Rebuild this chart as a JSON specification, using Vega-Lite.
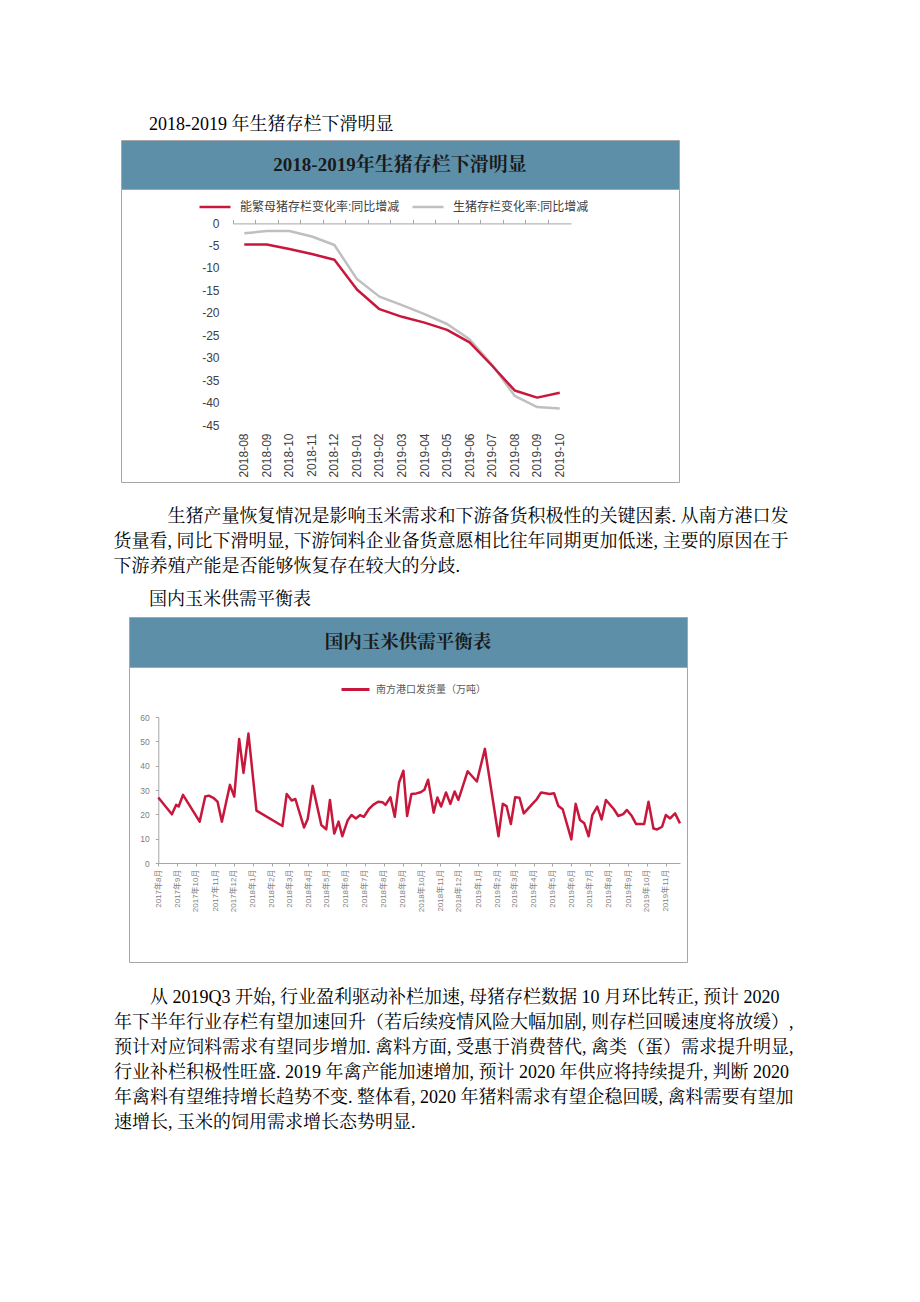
{
  "$schema": "https://vega.github.io/schema/vega-lite/v6.json",
  "padding": {"left": 113, "top": 115, "right": 10, "bottom": 10},
  "background": "white",
  "config": {"view": {"stroke": null}, "font": "Liberation Sans, Noto Sans CJK SC"},
  "spacing": 13,
  "resolve": {"scale": {"color": "independent"}, "legend": {"color": "independent"}},
  "datasets": {
    "pig": [
      {"m": "2018-08", "s": "生猪存栏变化率:同比增减", "v": -2.3},
      {"m": "2018-09", "s": "生猪存栏变化率:同比增减", "v": -1.8},
      {"m": "2018-10", "s": "生猪存栏变化率:同比增减", "v": -1.8},
      {"m": "2018-11", "s": "生猪存栏变化率:同比增减", "v": -3.0},
      {"m": "2018-12", "s": "生猪存栏变化率:同比增减", "v": -4.9},
      {"m": "2019-01", "s": "生猪存栏变化率:同比增减", "v": -12.5},
      {"m": "2019-02", "s": "生猪存栏变化率:同比增减", "v": -16.4},
      {"m": "2019-03", "s": "生猪存栏变化率:同比增减", "v": -18.3},
      {"m": "2019-04", "s": "生猪存栏变化率:同比增减", "v": -20.3},
      {"m": "2019-05", "s": "生猪存栏变化率:同比增减", "v": -22.5},
      {"m": "2019-06", "s": "生猪存栏变化率:同比增减", "v": -25.9},
      {"m": "2019-07", "s": "生猪存栏变化率:同比增减", "v": -31.6},
      {"m": "2019-08", "s": "生猪存栏变化率:同比增减", "v": -38.5},
      {"m": "2019-09", "s": "生猪存栏变化率:同比增减", "v": -41.0},
      {"m": "2019-10", "s": "生猪存栏变化率:同比增减", "v": -41.3},
      {"m": "2018-08", "s": "能繁母猪存栏变化率:同比增减", "v": -4.8},
      {"m": "2018-09", "s": "能繁母猪存栏变化率:同比增减", "v": -4.8},
      {"m": "2018-10", "s": "能繁母猪存栏变化率:同比增减", "v": -5.8},
      {"m": "2018-11", "s": "能繁母猪存栏变化率:同比增减", "v": -6.9},
      {"m": "2018-12", "s": "能繁母猪存栏变化率:同比增减", "v": -8.2},
      {"m": "2019-01", "s": "能繁母猪存栏变化率:同比增减", "v": -14.8},
      {"m": "2019-02", "s": "能繁母猪存栏变化率:同比增减", "v": -19.2},
      {"m": "2019-03", "s": "能繁母猪存栏变化率:同比增减", "v": -20.9},
      {"m": "2019-04", "s": "能繁母猪存栏变化率:同比增减", "v": -22.2},
      {"m": "2019-05", "s": "能繁母猪存栏变化率:同比增减", "v": -23.8},
      {"m": "2019-06", "s": "能繁母猪存栏变化率:同比增减", "v": -26.6},
      {"m": "2019-07", "s": "能繁母猪存栏变化率:同比增减", "v": -31.8},
      {"m": "2019-08", "s": "能繁母猪存栏变化率:同比增减", "v": -37.3},
      {"m": "2019-09", "s": "能繁母猪存栏变化率:同比增减", "v": -38.9},
      {"m": "2019-10", "s": "能繁母猪存栏变化率:同比增减", "v": -37.8}
    ],
    "corn": [
      {"d": "2017/08/01", "v": 26.9, "s": "南方港口发货量（万吨）"},
      {"d": "2017/08/23", "v": 20.0, "s": "南方港口发货量（万吨）"},
      {"d": "2017/08/30", "v": 23.9, "s": "南方港口发货量（万吨）"},
      {"d": "2017/09/03", "v": 23.2, "s": "南方港口发货量（万吨）"},
      {"d": "2017/09/10", "v": 28.0, "s": "南方港口发货量（万吨）"},
      {"d": "2017/10/07", "v": 17.0, "s": "南方港口发货量（万吨）"},
      {"d": "2017/10/16", "v": 27.3, "s": "南方港口发货量（万吨）"},
      {"d": "2017/10/22", "v": 27.7, "s": "南方港口发货量（万吨）"},
      {"d": "2017/10/29", "v": 26.8, "s": "南方港口发货量（万吨）"},
      {"d": "2017/11/05", "v": 25.2, "s": "南方港口发货量（万吨）"},
      {"d": "2017/11/12", "v": 17.0, "s": "南方港口发货量（万吨）"},
      {"d": "2017/11/18", "v": 23.9, "s": "南方港口发货量（万吨）"},
      {"d": "2017/11/25", "v": 32.1, "s": "南方港口发货量（万吨）"},
      {"d": "2017/12/02", "v": 27.3, "s": "南方港口发货量（万吨）"},
      {"d": "2017/12/10", "v": 51.0, "s": "南方港口发货量（万吨）"},
      {"d": "2017/12/17", "v": 37.0, "s": "南方港口发货量（万吨）"},
      {"d": "2017/12/25", "v": 53.2, "s": "南方港口发货量（万吨）"},
      {"d": "2018/01/07", "v": 21.5, "s": "南方港口发货量（万吨）"},
      {"d": "2018/02/18", "v": 15.2, "s": "南方港口发货量（万吨）"},
      {"d": "2018/02/25", "v": 28.4, "s": "南方港口发货量（万吨）"},
      {"d": "2018/03/05", "v": 25.7, "s": "南方港口发货量（万吨）"},
      {"d": "2018/03/11", "v": 26.3, "s": "南方港口发货量（万吨）"},
      {"d": "2018/03/25", "v": 14.6, "s": "南方港口发货量（万吨）"},
      {"d": "2018/03/31", "v": 18.1, "s": "南方港口发货量（万吨）"},
      {"d": "2018/04/08", "v": 31.7, "s": "南方港口发货量（万吨）"},
      {"d": "2018/04/22", "v": 15.6, "s": "南方港口发货量（万吨）"},
      {"d": "2018/04/30", "v": 13.8, "s": "南方港口发货量（万吨）"},
      {"d": "2018/05/06", "v": 25.9, "s": "南方港口发货量（万吨）"},
      {"d": "2018/05/13", "v": 12.1, "s": "南方港口发货量（万吨）"},
      {"d": "2018/05/20", "v": 17.0, "s": "南方港口发货量（万吨）"},
      {"d": "2018/05/26", "v": 11.0, "s": "南方港口发货量（万吨）"},
      {"d": "2018/06/04", "v": 17.7, "s": "南方港口发货量（万吨）"},
      {"d": "2018/06/10", "v": 19.7, "s": "南方港口发货量（万吨）"},
      {"d": "2018/06/17", "v": 18.3, "s": "南方港口发货量（万吨）"},
      {"d": "2018/06/24", "v": 19.7, "s": "南方港口发货量（万吨）"},
      {"d": "2018/06/30", "v": 19.0, "s": "南方港口发货量（万吨）"},
      {"d": "2018/07/08", "v": 22.1, "s": "南方港口发货量（万吨）"},
      {"d": "2018/07/15", "v": 23.9, "s": "南方港口发货量（万吨）"},
      {"d": "2018/07/23", "v": 25.2, "s": "南方港口发货量（万吨）"},
      {"d": "2018/07/30", "v": 25.0, "s": "南方港口发货量（万吨）"},
      {"d": "2018/08/04", "v": 23.9, "s": "南方港口发货量（万吨）"},
      {"d": "2018/08/12", "v": 27.0, "s": "南方港口发货量（万吨）"},
      {"d": "2018/08/19", "v": 19.0, "s": "南方港口发货量（万吨）"},
      {"d": "2018/08/26", "v": 33.1, "s": "南方港口发货量（万吨）"},
      {"d": "2018/09/02", "v": 37.9, "s": "南方港口发货量（万吨）"},
      {"d": "2018/09/08", "v": 19.3, "s": "南方港口发货量（万吨）"},
      {"d": "2018/09/15", "v": 28.4, "s": "南方港口发货量（万吨）"},
      {"d": "2018/09/23", "v": 28.6, "s": "南方港口发货量（万吨）"},
      {"d": "2018/09/30", "v": 29.1, "s": "南方港口发货量（万吨）"},
      {"d": "2018/10/06", "v": 30.1, "s": "南方港口发货量（万吨）"},
      {"d": "2018/10/12", "v": 34.2, "s": "南方港口发货量（万吨）"},
      {"d": "2018/10/21", "v": 20.7, "s": "南方港口发货量（万吨）"},
      {"d": "2018/10/27", "v": 26.9, "s": "南方港口发货量（万吨）"},
      {"d": "2018/11/02", "v": 23.2, "s": "南方港口发货量（万吨）"},
      {"d": "2018/11/10", "v": 29.0, "s": "南方港口发货量（万吨）"},
      {"d": "2018/11/17", "v": 24.3, "s": "南方港口发货量（万吨）"},
      {"d": "2018/11/24", "v": 29.4, "s": "南方港口发货量（万吨）"},
      {"d": "2018/11/30", "v": 25.9, "s": "南方港口发货量（万吨）"},
      {"d": "2018/12/15", "v": 37.7, "s": "南方港口发货量（万吨）"},
      {"d": "2018/12/30", "v": 33.5, "s": "南方港口发货量（万吨）"},
      {"d": "2019/01/12", "v": 46.9, "s": "南方港口发货量（万吨）"},
      {"d": "2019/02/03", "v": 11.0, "s": "南方港口发货量（万吨）"},
      {"d": "2019/02/10", "v": 24.3, "s": "南方港口发货量（万吨）"},
      {"d": "2019/02/16", "v": 23.4, "s": "南方港口发货量（万吨）"},
      {"d": "2019/02/23", "v": 16.0, "s": "南方港口发货量（万吨）"},
      {"d": "2019/03/02", "v": 27.0, "s": "南方港口发货量（万吨）"},
      {"d": "2019/03/09", "v": 26.8, "s": "南方港口发货量（万吨）"},
      {"d": "2019/03/16", "v": 20.4, "s": "南方港口发货量（万吨）"},
      {"d": "2019/03/30", "v": 24.3, "s": "南方港口发货量（万吨）"},
      {"d": "2019/04/06", "v": 26.2, "s": "南方港口发货量（万吨）"},
      {"d": "2019/04/13", "v": 29.0, "s": "南方港口发货量（万吨）"},
      {"d": "2019/04/20", "v": 28.7, "s": "南方港口发货量（万吨）"},
      {"d": "2019/04/27", "v": 28.4, "s": "南方港口发货量（万吨）"},
      {"d": "2019/05/04", "v": 28.7, "s": "南方港口发货量（万吨）"},
      {"d": "2019/05/11", "v": 23.4, "s": "南方港口发货量（万吨）"},
      {"d": "2019/05/18", "v": 22.1, "s": "南方港口发货量（万吨）"},
      {"d": "2019/06/01", "v": 9.7, "s": "南方港口发货量（万吨）"},
      {"d": "2019/06/08", "v": 24.3, "s": "南方港口发货量（万吨）"},
      {"d": "2019/06/15", "v": 17.7, "s": "南方港口发货量（万吨）"},
      {"d": "2019/06/22", "v": 16.3, "s": "南方港口发货量（万吨）"},
      {"d": "2019/06/29", "v": 11.0, "s": "南方港口发货量（万吨）"},
      {"d": "2019/07/05", "v": 19.7, "s": "南方港口发货量（万吨）"},
      {"d": "2019/07/13", "v": 23.2, "s": "南方港口发货量（万吨）"},
      {"d": "2019/07/20", "v": 17.9, "s": "南方港口发货量（万吨）"},
      {"d": "2019/07/27", "v": 25.9, "s": "南方港口发货量（万吨）"},
      {"d": "2019/08/09", "v": 22.1, "s": "南方港口发货量（万吨）"},
      {"d": "2019/08/16", "v": 19.3, "s": "南方港口发货量（万吨）"},
      {"d": "2019/08/24", "v": 20.1, "s": "南方港口发货量（万吨）"},
      {"d": "2019/08/30", "v": 21.8, "s": "南方港口发货量（万吨）"},
      {"d": "2019/09/07", "v": 19.3, "s": "南方港口发货量（万吨）"},
      {"d": "2019/09/14", "v": 16.0, "s": "南方港口发货量（万吨）"},
      {"d": "2019/09/27", "v": 16.0, "s": "南方港口发货量（万吨）"},
      {"d": "2019/10/04", "v": 25.2, "s": "南方港口发货量（万吨）"},
      {"d": "2019/10/12", "v": 14.2, "s": "南方港口发货量（万吨）"},
      {"d": "2019/10/18", "v": 13.8, "s": "南方港口发货量（万吨）"},
      {"d": "2019/10/26", "v": 14.9, "s": "南方港口发货量（万吨）"},
      {"d": "2019/11/01", "v": 19.7, "s": "南方港口发货量（万吨）"},
      {"d": "2019/11/08", "v": 18.3, "s": "南方港口发货量（万吨）"},
      {"d": "2019/11/16", "v": 20.4, "s": "南方港口发货量（万吨）"},
      {"d": "2019/11/24", "v": 16.3, "s": "南方港口发货量（万吨）"}
    ]
  },
  "vconcat": [
    {
      "bounds": "flush",
      "spacing": 0,
      "vconcat": [
        {
          "width": 558,
          "height": 49,
          "view": {"fill": "#5D8FA8", "stroke": "#A6A6A6"},
          "title": {
            "text": "2018-2019 年生猪存栏下滑明显",
            "orient": "top", "anchor": "start", "dx": 28, "offset": 6,
            "font": "Liberation Serif, Noto Serif CJK SC, Noto Sans CJK SC",
            "fontSize": 18, "fontWeight": "normal", "color": "#000000"
          },
          "data": {"values": [{"t": "2018-2019年生猪存栏下滑明显"}]},
          "mark": {"type": "text", "font": "Liberation Serif, Noto Serif CJK SC, Noto Sans CJK SC", "fontSize": 19, "fontWeight": "bold", "color": "#1a1a1a", "align": "center", "baseline": "middle"},
          "encoding": {"text": {"field": "t"}}
        },
        {
          "width": 558,
          "height": 293,
          "view": {"stroke": "#A6A6A6"},
          "title": {
            "text": [
              "\u200b\u3000\u3000\u3000生猪产量恢复情况是影响玉米需求和下游备货积极性的关键因素. 从南方港口发",
              "货量看, 同比下滑明显, 下游饲料企业备货意愿相比往年同期更加低迷, 主要的原因在于",
              "下游养殖产能是否能够恢复存在较大的分歧."
            ],
            "orient": "bottom", "anchor": "start", "dx": -7, "offset": 26, "lineHeight": 25,
            "font": "Liberation Serif, Noto Serif CJK SC, Noto Sans CJK SC",
            "fontSize": 18, "fontWeight": "normal", "color": "#000000"
          },
          "data": {"name": "pig"},
          "layer": [
            {
              "mark": {"type": "line", "strokeWidth": 2.5, "strokeJoin": "round"},
              "encoding": {
                "x": {
                  "field": "m", "type": "ordinal",
                  "scale": {"type": "band", "domain": ["2018-08","2018-09","2018-10","2018-11","2018-12","2019-01","2019-02","2019-03","2019-04","2019-05","2019-06","2019-07","2019-08","2019-09","2019-10"], "range": [112, 450], "paddingInner": 0, "paddingOuter": 0},
                  "axis": {"orient": "bottom", "offset": -53, "domain": false, "ticks": false, "labelAngle": -90, "labelPadding": 4, "labelFontSize": 12, "labelColor": "#404040", "labelFont": "Liberation Sans", "title": null, "labelOverlap": false, "grid": false}
                },
                "y": {
                  "field": "v", "type": "quantitative",
                  "scale": {"domain": [-45, 0], "range": [236, 34], "nice": false, "zero": false},
                  "axis": {"orient": "left", "offset": -100, "domain": false, "ticks": false, "grid": false, "labelPadding": 2, "values": [-45,-40,-35,-30,-25,-20,-15,-10,-5,0], "labelExpr": "'' + datum.value", "labelFontSize": 12, "labelColor": "#404040", "labelFont": "Liberation Sans", "title": null}
                },
                "color": {
                  "field": "s", "type": "nominal",
                  "scale": {"domain": ["能繁母猪存栏变化率:同比增减", "生猪存栏变化率:同比增减"], "range": ["#C8173C", "#BFBFBF"]},
                  "legend": {"orient": "none", "legendX": 77, "legendY": 50, "direction": "horizontal", "title": null, "padding": 0, "symbolType": "stroke", "symbolSize": 961, "symbolStrokeWidth": 2.5, "labelFontSize": 12, "labelColor": "#404040", "labelOffset": 8, "columnPadding": 7, "labelLimit": 400}
                }
              }
            },
            {
              "mark": {"type": "point", "opacity": 0},
              "encoding": {
                "x": {
                  "field": "m", "type": "ordinal",
                  "scale": {"type": "band"},
                  "axis": {"orient": "top", "offset": -34.4, "labels": false, "bandPosition": 0, "tickExtra": true, "tickSize": 4, "domainColor": "#A6A6A6", "tickColor": "#A6A6A6", "title": null, "grid": false}
                }
              }
            }
          ],
          "resolve": {"axis": {"x": "independent"}}
        }
      ]
    },
    {
      "bounds": "flush",
      "spacing": 7,
      "hconcat": [
        {
          "width": 1,
          "height": 1,
          "data": {"values": [{"a": 1}]},
          "mark": {"type": "point", "opacity": 0}
        },
        {
          "bounds": "flush",
          "spacing": 0,
          "vconcat": [
            {
              "width": 558,
              "height": 50,
              "view": {"fill": "#5D8FA8", "stroke": "#A6A6A6"},
              "title": {
                "text": "国内玉米供需平衡表",
                "orient": "top", "anchor": "start", "dx": 20, "offset": 8,
                "font": "Liberation Serif, Noto Serif CJK SC, Noto Sans CJK SC",
                "fontSize": 18, "fontWeight": "normal", "color": "#000000"
              },
              "data": {"values": [{"t": "国内玉米供需平衡表"}]},
              "mark": {"type": "text", "font": "Liberation Serif, Noto Serif CJK SC, Noto Sans CJK SC", "fontSize": 18.5, "fontWeight": "bold", "color": "#1a1a1a", "align": "center", "baseline": "middle"},
              "encoding": {"text": {"field": "t"}}
            },
            {
              "width": 558,
              "height": 295,
              "view": {"stroke": "#A6A6A6"},
              "title": {
                "text": [
                  "\u200b\u3000\u3000从 2019Q3 开始, 行业盈利驱动补栏加速, 母猪存栏数据 10 月环比转正, 预计 2020",
                  "年下半年行业存栏有望加速回升（若后续疫情风险大幅加剧, 则存栏回暖速度将放缓）,",
                  "预计对应饲料需求有望同步增加. 禽料方面, 受惠于消费替代, 禽类（蛋）需求提升明显,",
                  "行业补栏积极性旺盛. 2019 年禽产能加速增加, 预计 2020 年供应将持续提升, 判断 2020",
                  "年禽料有望维持增长趋势不变. 整体看, 2020 年猪料需求有望企稳回暖, 禽料需要有望加",
                  "速增长, 玉米的饲用需求增长态势明显."
                ],
                "orient": "bottom", "anchor": "start", "dx": -15, "offset": 27, "lineHeight": 25,
                "font": "Liberation Serif, Noto Serif CJK SC, Noto Sans CJK SC",
                "fontSize": 18, "fontWeight": "normal", "color": "#000000"
              },
              "data": {"name": "corn"},
              "mark": {"type": "line", "strokeWidth": 2.5, "strokeJoin": "round"},
              "encoding": {
                "x": {
                  "field": "d", "type": "temporal",
                  "scale": {"domain": [{"year": 2017, "month": 8, "date": 1}, {"year": 2019, "month": 11, "date": 24}], "range": [29.3, 551], "nice": false},
                  "axis": {"orient": "bottom", "offset": -99, "tickCount": {"interval": "month", "step": 1}, "format": "%Y年%-m月", "labelAngle": -90, "labelFontSize": 8, "labelColor": "#7F7F7F", "domainColor": "#A6A6A6", "tickColor": "#A6A6A6", "tickSize": 3, "labelPadding": 3, "grid": false, "title": null, "labelOverlap": false, "labelFlush": false}
                },
                "y": {
                  "field": "v", "type": "quantitative",
                  "scale": {"domain": [0, 60], "range": [196, 50], "nice": false},
                  "axis": {"orient": "left", "offset": -29.3, "values": [0,10,20,30,40,50,60], "tickSize": 3, "labelPadding": 6, "domainColor": "#A6A6A6", "tickColor": "#A6A6A6", "labelFontSize": 8.5, "labelColor": "#7F7F7F", "grid": false, "title": null}
                },
                "color": {
                  "field": "s", "type": "nominal",
                  "scale": {"range": ["#C8173C"]},
                  "legend": {"orient": "none", "legendX": 219, "legendY": 57, "title": null, "padding": 0, "symbolType": "stroke", "symbolSize": 784, "symbolStrokeWidth": 3, "labelFontSize": 10, "labelColor": "#595959", "labelOffset": 5, "labelLimit": 300}
                }
              }
            }
          ]
        }
      ]
    }
  ]
}
